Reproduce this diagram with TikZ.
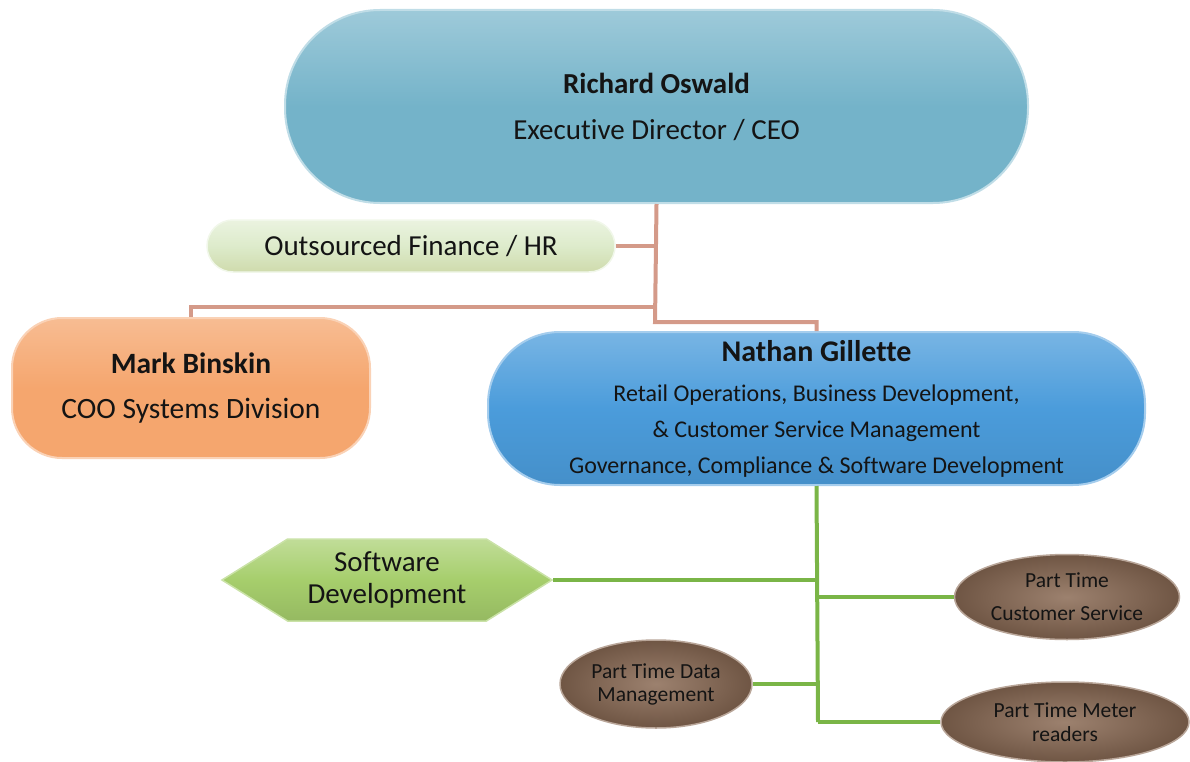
\documentclass[tikz,border=0pt]{standalone}
\usepackage{fontspec}
\setmainfont[Ligatures=NoCommon]{Carlito}
\usetikzlibrary{shapes.geometric,shapes.symbols}

\definecolor{ceoblue}{HTML}{74B3C9}
\definecolor{finpale}{HTML}{DDEBCB}
\definecolor{cooorange}{HTML}{F5A66E}
\definecolor{opsblue}{HTML}{4B9CDB}
\definecolor{swgreen}{HTML}{A6CE6C}
\definecolor{ptbrown}{HTML}{8B6B55}
\definecolor{linksalmon}{HTML}{D49A89}
\definecolor{linkgreen}{HTML}{7AB547}
\definecolor{inktext}{HTML}{141414}

\tikzset{
  box/.style={inner sep=0pt, text=inktext, align=center},
  pill/.style={box, rectangle, rounded corners=#1},
  toplink/.style={draw=linksalmon, line width=4pt, line join=miter},
  botlink/.style={draw=linkgreen, line width=4pt, line join=miter},
  parttime/.style={box, ellipse, inner color=ptbrown!85!white, outer color=ptbrown!80!black,
    draw=ptbrown!60!white, line width=1.5pt,
    font=\fontsize{21.5}{33}\selectfont}
}

\begin{document}
\begin{tikzpicture}[x=1pt,y=-1pt]
\useasboundingbox (0,0) rectangle (1190,762);

% top level
\node[pill=95, minimum width=743, minimum height=193,
      top color=ceoblue!70!white, bottom color=ceoblue, middle color=ceoblue,
      draw=ceoblue!45!white, line width=2pt,
      font=\fontsize{29}{46}\selectfont]
  (ceo) at (656.5,106.5) {\textbf{Richard Oswald}\\Executive Director / CEO};

% second level
\node[pill=26, minimum width=408, minimum height=52,
      top color=finpale!60!white, bottom color=finpale!85!olive, middle color=finpale,
      draw=finpale!40!white, line width=1.5pt,
      font=\fontsize{29}{34}\selectfont]
  (fin) at (411,246) {Outsourced Finance / HR};

\node[pill=50, minimum width=358, minimum height=140,
      top color=cooorange!75!white, bottom color=cooorange, middle color=cooorange,
      draw=cooorange!50!white, line width=2pt,
      font=\fontsize{29.5}{45}\selectfont]
  (coo) at (191,388) {\textbf{Mark Binskin}\\COO Systems Division};

\node[pill=72, minimum width=657, minimum height=153,
      top color=opsblue!75!white, bottom color=opsblue!92!black, middle color=opsblue,
      draw=opsblue!50!white, line width=2pt,
      font=\fontsize{24}{36}\selectfont]
  (ops) at (816.5,408.5)
  {{\fontsize{30}{34}\selectfont\bfseries Nathan Gillette}\\[4pt]
   Retail Operations, Business Development,\\
   \& Customer Service Management\\
   Governance, Compliance \& Software Development};

% third level
\node[box, signal, signal to=east and west, signal pointer angle=64,
      minimum width=330, minimum height=82,
      top color=swgreen!70!white, bottom color=swgreen!90!black, middle color=swgreen,
      draw=swgreen!60!white, line width=1.5pt,
      font=\fontsize{29}{32}\selectfont]
  (sw) at (387,580) {Software\\Development};

\node[parttime, minimum width=225, minimum height=85]
  (pcs) at (1067,597) {Part Time\\Customer Service};
\node[parttime, minimum width=192, minimum height=88,
      font=\fontsize{21.5}{23}\selectfont]
  (pdm) at (656,684) {Part Time Data\\Management};
\node[parttime, minimum width=248, minimum height=80,
      font=\fontsize{21.5}{24}\selectfont]
  (pmr) at (1065,722) {Part Time Meter\\readers};

% management links
\coordinate (jtop) at (655,322);
\draw[toplink] (ceo.south) -- (jtop) -| (ops.north);
\draw[toplink] (fin.east) -- (fin.east -| ceo.south);
\draw[toplink] (ceo.south |- 0,307) -| (coo.north);

% team links
\coordinate (jbot) at (818,722);
\draw[botlink] (ops.south) -- (jbot);
\draw[botlink] (sw.east) -- (sw.east -| ops.south);
\draw[botlink] (pcs.west) -- (pcs.west -| ops.south);
\draw[botlink] (pdm.east) -- (pdm.east -| ops.south);
\draw[botlink] (pmr.west) -- (jbot);
\end{tikzpicture}
\end{document}
